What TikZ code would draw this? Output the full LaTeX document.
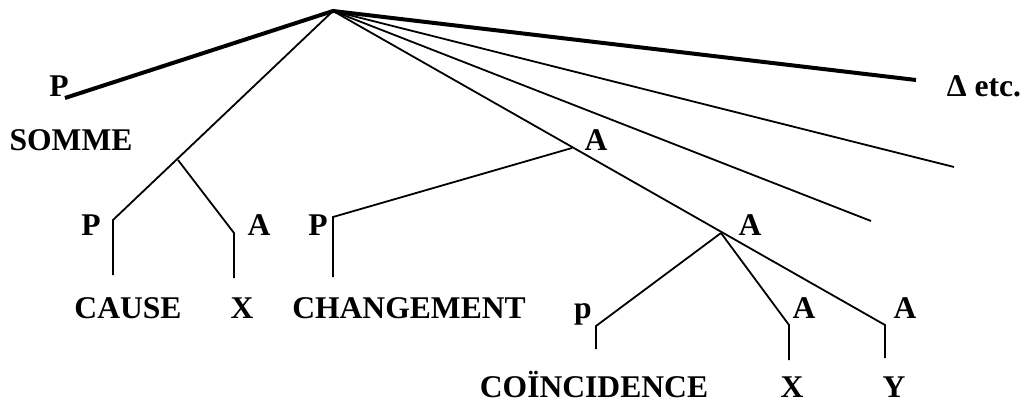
\documentclass[tikz,border=0pt]{standalone}
\usepackage{fontspec}
\setmainfont{Liberation Serif}
\usepackage{tikz}
\usetikzlibrary{positioning}

\newcommand{\treefont}{\bfseries\fontsize{31.6}{36}\selectfont}

\begin{document}
\begin{tikzpicture}[x=1pt, y=-1pt,
    lbl/.style={font=\treefont, inner sep=0pt, anchor=base, text depth=0pt},
    trunk/.style={line width=4pt},
    limb/.style={line width=1.8pt}]
    \useasboundingbox (0,0) rectangle (1030,401);

    % junctions
    \coordinate (root) at (333,11);
    \coordinate (pTop) at (65,98);
    \coordinate (etcEnd) at (916,80);
    \coordinate (fanA) at (954,167);
    \coordinate (fanB) at (871,221);
    \coordinate (somme) at (178,160);
    \coordinate (causeP) at (113,220);
    \coordinate (causeBot) at (113,275);
    \coordinate (xA) at (234,233);
    \coordinate (xBot) at (234,278);
    \coordinate (chA) at (572,148);
    \coordinate (chP) at (333,217);
    \coordinate (chBot) at (333,277);
    \coordinate (coA) at (721,233);
    \coordinate (yA) at (885,325);
    \coordinate (yBot) at (885,358);
    \coordinate (coP) at (596,326);
    \coordinate (coBot) at (596,349);
    \coordinate (x2A) at (789,325);
    \coordinate (x2Bot) at (789,360);

    % labels
    \node[lbl] (lP) at (59,97) {P};
    \node[lbl] (lSomme) at (71,150) {SOMME};
    \node[lbl] (lEtc) at (984,97) {Δ etc.};
    \node[lbl] (lChA) at (596,150) {A};
    \node[lbl] (lCauseP) at (91,235) {P};
    \node[lbl] (lXA) at (259,235) {A};
    \node[lbl] (lChP) at (318,235) {P};
    \node[lbl] (lCause) at (128,318) {CAUSE};
    \node[lbl] (lX) at (242,318) {X};
    \node[lbl] (lChange) at (409,318) {CHANGEMENT};
    \node[lbl] (lCoA) at (750,235) {A};
    \node[lbl] (lCoP) at (583,318) {p};
    \node[lbl] (lX2A) at (804,318) {A};
    \node[lbl] (lYA) at (905,318) {A};
    \node[lbl] (lCoinc) at (594,397) {CO\"INCIDENCE};
    \node[lbl] (lX2) at (792,397) {X};
    \node[lbl] (lY) at (894,397) {Y};

    % branches
    \draw[trunk] (pTop) -- (root) -- (etcEnd);
    \draw[limb] (root) -- (fanA);
    \draw[limb] (root) -- (fanB);
    \draw[limb] (root) -- (causeP) -- (causeBot);
    \draw[limb] (somme) -- (xA) -- (xBot);
    \draw[limb] (root) -- (yA) -- (yBot);
    \draw[limb] (chA) -- (chP) -- (chBot);
    \draw[limb] (coA) -- (coP) -- (coBot);
    \draw[limb] (coA) -- (x2A) -- (x2Bot);
\end{tikzpicture}
\end{document}
